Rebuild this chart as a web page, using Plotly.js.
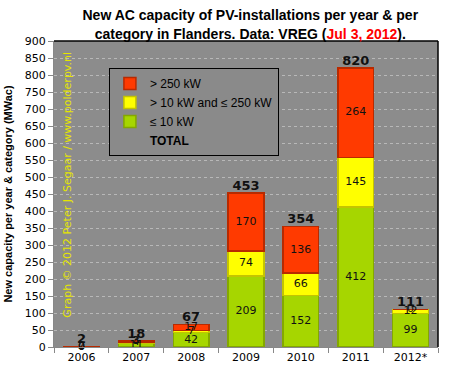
<!DOCTYPE html>
<html><head><meta charset="utf-8">
<script src="https://cdn.plot.ly/plotly-3.0.1.min.js"></script>
<style>html,body{margin:0;padding:0;background:#fff;}#chart{width:451px;height:371px;}</style>
</head><body><div id="chart"></div>
<script>
const years = ['2006','2007','2008','2009','2010','2011','2012*'];
const small = [0, 11, 42, 209, 152, 412, 99];      // ≤ 10 kW
const medium = [0, 4, 7, 74, 66, 145, 12];         // > 10 kW and ≤ 250 kW
const large = [2, 3, 17, 170, 136, 264, 0];        // > 250 kW
const totals = [2, 18, 67, 453, 354, 820, 111];

const cGreen = '#a6d600', cYellow = '#ffff00', cRed = '#ff3a00';
const labelFont = {family: 'DejaVu Sans', size: 11, color: '#111'};

function bar(name, vals, color, line) {
  return {type: 'bar', name: name, x: years, y: vals,
    marker: {color: color, line: {color: line, width: 1.5}},
    hoverinfo: 'skip'};
}
function labels(vals, base) {
  return {type: 'scatter', mode: 'text', x: years,
    y: vals.map((v, i) => base[i] + v / 2),
    text: vals.map(String), textposition: 'middle center',
    textfont: labelFont, showlegend: false, hoverinfo: 'skip', cliponaxis: false};
}
const zeros = years.map(() => 0);
const baseMed = small.slice();
const baseLarge = small.map((v, i) => v + medium[i]);

const data = [
  {type: 'scatter', mode: 'markers', x: [null], y: [null], name: '<b>TOTAL</b>',
   marker: {size: 0, color: 'rgba(0,0,0,0)', line: {width: 0}}, hoverinfo: 'skip'},
  bar('≤ 10 kW', small, cGreen, '#84a800'),
  bar('> 10 kW and ≤ 250 kW', medium, cYellow, '#c4c400'),
  bar('> 250 kW', large, cRed, '#b82a00'),
  labels(small, zeros),
  labels(medium, baseMed),
  labels(large, baseLarge),
  {type: 'scatter', mode: 'text', x: years, y: totals, text: totals.map(String),
   textposition: 'top center', textfont: {family: 'DejaVu Sans', size: 13, color: '#111'},
   texttemplate: '<b>%{text}</b>', showlegend: false, hoverinfo: 'skip', cliponaxis: false}
];

const layout = {
  width: 451, height: 371,
  margin: {l: 54, r: 13, t: 41, b: 24},
  paper_bgcolor: '#ffffff', plot_bgcolor: '#8c8c8c',
  barmode: 'stack', bargap: 0.35,
  title: {text: '<b>New AC capacity of PV-installations per year & per<br>category in Flanders. Data: VREG (<span style="color:#ff0000">Jul 3, 2012</span>).</b>',
    font: {family: 'Liberation Sans', size: 14, color: '#000'},
    x: 0.555, xanchor: 'center', xref: 'container', y: 0.945, yref: 'container', yanchor: 'top'},
  xaxis: {type: 'category', tickfont: {family: 'DejaVu Sans', size: 11, color: '#000'},
    ticks: 'outside', tickson: 'boundaries', ticklen: 5, tickcolor: '#888',
    showline: true, linecolor: '#888', linewidth: 1, showgrid: false, fixedrange: true},
  yaxis: {range: [0, 900], dtick: 50, tickfont: {family: 'DejaVu Sans', size: 11, color: '#000'},
    ticks: 'outside', ticklen: 5, tickcolor: '#888', showline: true, linecolor: '#888',
    gridcolor: '#b8b8b8', griddash: 'dot', gridwidth: 1, zeroline: false,
    title: {text: '<b>New capacity per year & category (MWac)</b>', font: {family: 'Liberation Sans', size: 11, color: '#000'}, standoff: 9}},
  legend: {x: 0.143, y: 0.912, xanchor: 'left', yanchor: 'top', traceorder: 'reversed',
    bgcolor: '#8a8a8a', bordercolor: '#000', borderwidth: 1,
    font: {family: 'Liberation Sans', size: 12, color: '#000'}, itemwidth: 30},
  shapes: [
    {type: 'line', xref: 'paper', yref: 'paper', x0: 0, x1: 1, y0: 1, y1: 1, line: {color: '#000', width: 1.5}},
    {type: 'line', xref: 'paper', yref: 'paper', x0: 1, x1: 1, y0: 0, y1: 1, line: {color: '#000', width: 1.5}}
  ],
  annotations: [
    {text: 'Graph © 2012 Peter J. Segaar / www.polderpv.nl', xref: 'paper', yref: 'paper',
     x: 0.036, y: 0.53, textangle: -90, showarrow: false, xanchor: 'center', yanchor: 'middle',
     font: {family: 'DejaVu Sans', size: 11, color: '#e6e600'}}
  ],
  showlegend: true
};
Plotly.newPlot('chart', data, layout, {staticPlot: true, displayModeBar: false});
</script></body></html>
